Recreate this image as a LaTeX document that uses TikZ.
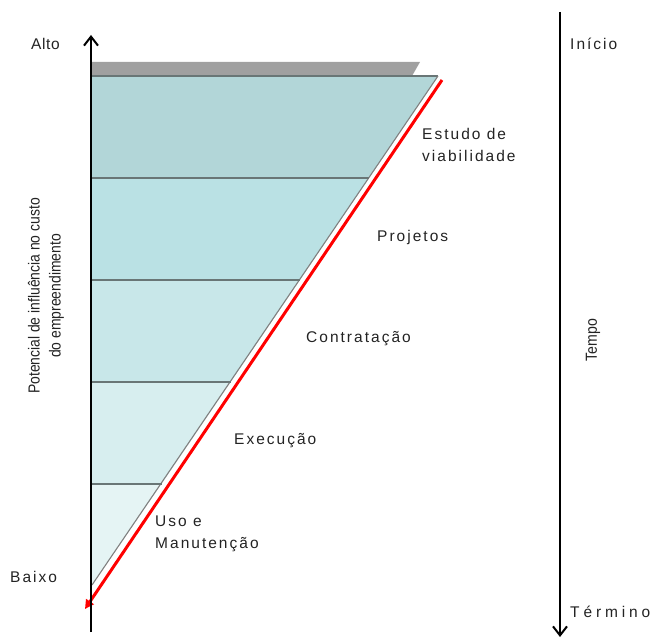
\documentclass[tikz,border=0pt]{standalone}
\usepackage{fontspec}
\usepackage{graphicx}
\setmainfont{Liberation Sans}
\newfontfamily\spacedfont[LetterSpace=13]{Liberation Sans}
\newfontfamily\widefont[LetterSpace=25]{Liberation Sans}
\newfontfamily\tightfont[LetterSpace=4]{Liberation Sans}
\usetikzlibrary{arrows.meta}
\definecolor{bandA}{RGB}{178,214,216}
\definecolor{bandB}{RGB}{186,225,228}
\definecolor{bandC}{RGB}{200,231,233}
\definecolor{bandD}{RGB}{215,238,239}
\definecolor{bandE}{RGB}{229,244,244}
\definecolor{topbar}{RGB}{160,160,160}
\definecolor{edgegray}{RGB}{105,118,118}
\definecolor{txt}{RGB}{35,35,35}
\tikzset{
  axis/.style={line width=2.4pt, black, -{Straight Barb[length=9pt,width=14pt,line width=2pt]}},
  band/.style={draw=edgegray, line width=1.1pt},
  lbl/.style={font=\spacedfont\fontsize{15.5}{22}\selectfont, text=txt, inner sep=0pt, align=left},
  vlbl/.style={font=\fontsize{16}{21}\selectfont, text=txt, inner sep=0pt, rotate=90},
  redarrow/.style={red, line width=3pt, -{Triangle[length=9pt,width=9pt]}}
}
\begin{document}
\begin{tikzpicture}[x=1pt,y=-1pt]
\useasboundingbox (0,0) rectangle (657,639);
% gray top bar
\fill[topbar] (91,62) -- (420,62) -- (412,76) -- (91,76) -- cycle;
% bands
\coordinate (t0l) at (91,76);  \coordinate (t0r) at (438,76);
\coordinate (t1l) at (91,178); \coordinate (t1r) at (368.9,178);
\coordinate (t2l) at (91,280); \coordinate (t2r) at (299.8,280);
\coordinate (t3l) at (91,382); \coordinate (t3r) at (230.7,382);
\coordinate (t4l) at (91,484); \coordinate (t4r) at (161.6,484);
\coordinate (t5) at (92,585);
\fill[bandA] (t0l) -- (t0r) -- (t1r) -- (t1l) -- cycle;
\fill[bandB] (t1l) -- (t1r) -- (t2r) -- (t2l) -- cycle;
\fill[bandC] (t2l) -- (t2r) -- (t3r) -- (t3l) -- cycle;
\fill[bandD] (t3l) -- (t3r) -- (t4r) -- (t4l) -- cycle;
\fill[bandE] (t4l) -- (t4r) -- (t5) -- cycle;
\draw[band] (t0l) -- (t0r);
\draw[draw=gray, line width=1.1pt] (t0r) -- (t5);
\draw[band] (t1l) -- (t1r);
\draw[band] (t2l) -- (t2r);
\draw[band] (t3l) -- (t3r);
\draw[band] (t4l) -- (t4r);
% red arrow
\coordinate (rs) at (442,80);
\coordinate (re) at (85,609);
\draw[redarrow] (rs) -- (re);
% axes
\coordinate (lb) at (91,632); \coordinate (lt) at (91,35);
\draw[axis] (lb) -- (lt);
\coordinate (rt) at (560,12); \coordinate (rb) at (560,637);
\draw[axis] (rt) -- (rb);
% labels
\node[lbl, font=\tightfont\fontsize{15.5}{22}\selectfont, anchor=base west] (alto) at (31,50) {Alto};
\node[lbl, anchor=base west] (baixo) at (10,582) {Baixo};
\node[lbl, anchor=base west] (inicio) at (570,50) {Início};
\node[lbl, font=\widefont\fontsize{15.5}{22}\selectfont, anchor=base west] (termino) at (570,617) {Término};
\node[vlbl] (tempo) at (593,340) {\scalebox{0.88}[1]{Tempo}};
\node[vlbl] (pot) at (46,296) {\scalebox{0.87}[1]{\begin{tabular}{@{}c@{}}Potencial de influência no custo\\do empreendimento\end{tabular}}};
\node[lbl, anchor=west] (estudo) at (422,145) {Estudo de\\viabilidade};
\node[lbl, anchor=west] (proj) at (377,237) {Projetos};
\node[lbl, anchor=west] (contr) at (306,339) {Contratação};
\node[lbl, anchor=west] (exec) at (234,441) {Execução};
\node[lbl, anchor=west] (uso) at (155,534) {Uso e\\Manutenção};
\end{tikzpicture}
\end{document}
